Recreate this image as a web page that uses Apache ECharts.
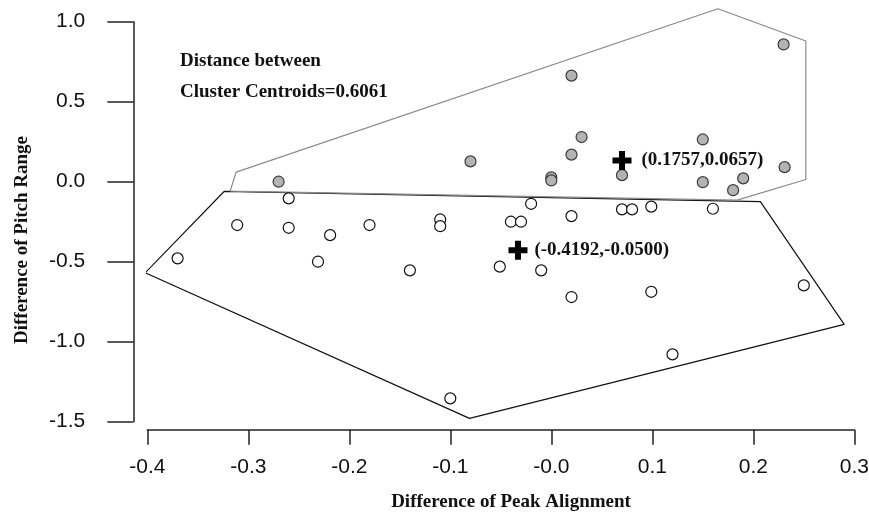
<!DOCTYPE html>
<html>
<head>
<meta charset="utf-8">
<script src="https://cdn.jsdelivr.net/npm/echarts@6/dist/echarts.min.js"></script>
<style>
  html, body { margin: 0; padding: 0; background: #fff; }
  #chart { width: 869px; height: 516px; }
</style>
</head>
<body>
<div id="chart"></div>
<script>
// cluster 1 (grey filled points)
const grayPts = [
  [-0.270, 0.000], [0.230, 0.858], [0.020, 0.663], [0.030, 0.279], [0.020, 0.169],
  [-0.080, 0.127], [0.000, 0.027], [0.000, 0.008], [0.150, 0.264], [0.070, 0.041],
  [0.150, -0.003], [0.190, 0.021], [0.180, -0.053], [0.231, 0.091]
];
// cluster 2 (open points)
const whitePts = [
  [-0.370, -0.479], [-0.311, -0.271], [-0.260, -0.104], [-0.260, -0.288], [-0.219, -0.334],
  [-0.180, -0.271], [-0.231, -0.500], [-0.140, -0.554], [-0.110, -0.236], [-0.110, -0.278],
  [-0.100, -1.354], [-0.020, -0.138], [-0.040, -0.250], [-0.030, -0.250], [0.020, -0.215],
  [-0.051, -0.531], [-0.010, -0.554], [0.020, -0.721], [0.070, -0.173], [0.080, -0.173],
  [0.099, -0.156], [0.160, -0.169], [0.099, -0.688], [0.250, -0.648], [0.120, -1.079]
];
// hull outlines
const grayHull = [[-0.318, -0.059], [-0.312, 0.060], [0.165, 1.081], [0.252, 0.879], [0.252, 0.014], [0.184, -0.115], [-0.318, -0.059]];
const blackHull = [[-0.324, -0.061], [-0.402, -0.569], [-0.081, -1.479], [0.290, -0.892], [0.207, -0.125], [-0.324, -0.061]];
// centroids
const centroids = [[0.070, 0.133], [-0.033, -0.428]];
const centroidLabels = ['(0.1757,0.0657)', '(-0.4192,-0.0500)'];

const xTickLabels = ['-0.4', '-0.3', '-0.2', '-0.1', '-0.0', '0.1', '0.2', '0.3'];
const yTickLabels = ['-1.5', '-1.0', '-0.5', '0.0', '0.5', '1.0'];

const serif = '"Liberation Serif", "Times New Roman", serif';
const sans = '"Liberation Sans", Arial, sans-serif';

const chart = echarts.init(document.getElementById('chart'), null, { renderer: 'canvas' });

const plusPath = 'path://M6.5,0H12.5V6.5H19V12.5H12.5V19H6.5V12.5H0V6.5H6.5Z';

const option = {
  animation: false,
  backgroundColor: '#fff',
  grid: { left: 147.3, right: 14.7, top: 21.7, bottom: 94.3, outerBoundsMode: 'none' },
  xAxis: {
    type: 'value', min: -0.4, max: 0.3, interval: 0.1, offset: 8,
    splitLine: { show: false },
    axisLine: { show: true, onZero: false, lineStyle: { color: '#222', width: 1.5 } },
    axisTick: { show: true, length: 15, lineStyle: { color: '#222', width: 1.5 } },
    axisLabel: {
      margin: 27, color: '#111', fontFamily: sans, fontSize: 21,
      formatter: v => xTickLabels[Math.round((v + 0.4) * 10)]
    }
  },
  yAxis: {
    type: 'value', min: -1.5, max: 1.0, interval: 0.5, offset: 14,
    splitLine: { show: false },
    axisLine: { show: true, onZero: false, lineStyle: { color: '#222', width: 1.5 } },
    axisTick: { show: true, length: 26, lineStyle: { color: '#222', width: 1.5 } },
    axisLabel: {
      margin: 48, color: '#111', fontFamily: sans, fontSize: 21,
      formatter: v => yTickLabels[Math.round((v + 1.5) * 2)]
    }
  },
  graphic: [
    {
      type: 'text', left: 180, top: 46,
      style: {
        text: 'Distance between\nCluster Centroids=0.6061',
        font: 'bold 19px ' + serif, fill: '#111', lineHeight: 31
      }
    },
    {
      type: 'text', x: 511, y: 502,
      style: {
        text: 'Difference of Peak Alignment', font: 'bold 19px ' + serif,
        fill: '#111', align: 'center', verticalAlign: 'middle'
      }
    },
    {
      type: 'text', x: 22, y: 240, rotation: Math.PI / 2,
      style: {
        text: 'Difference of Pitch Range', font: 'bold 19px ' + serif,
        fill: '#111', align: 'center', verticalAlign: 'middle'
      }
    }
  ],
  series: [
    {
      type: 'line', data: blackHull, showSymbol: false, clip: false, silent: true,
      lineStyle: { color: '#111', width: 1.2 }, z: 2
    },
    {
      type: 'line', data: grayHull, showSymbol: false, clip: false, silent: true,
      lineStyle: { color: '#8a8a8a', width: 1.2 }, z: 2
    },
    {
      type: 'scatter', data: grayPts, symbolSize: 11, clip: false,
      itemStyle: { color: '#b3b3b3', borderColor: '#3a3a3a', borderWidth: 1.2, opacity: 1 }, z: 3
    },
    {
      type: 'scatter', data: whitePts, symbolSize: 11, clip: false,
      itemStyle: { color: '#fff', borderColor: '#111', borderWidth: 1.2, opacity: 1 }, z: 3
    },
    {
      type: 'scatter', symbol: plusPath, symbolSize: 19, clip: false, z: 4,
      data: centroids.map((c, i) => ({
        value: c,
        label: { distance: i === 0 ? 10 : 7 }
      })),
      itemStyle: { color: '#000', opacity: 1 },
      label: {
        show: true, position: 'right', color: '#111',
        fontFamily: serif, fontWeight: 'bold', fontSize: 19,
        formatter: p => centroidLabels[p.dataIndex]
      }
    }
  ]
};

chart.setOption(option);
</script>
</body>
</html>
